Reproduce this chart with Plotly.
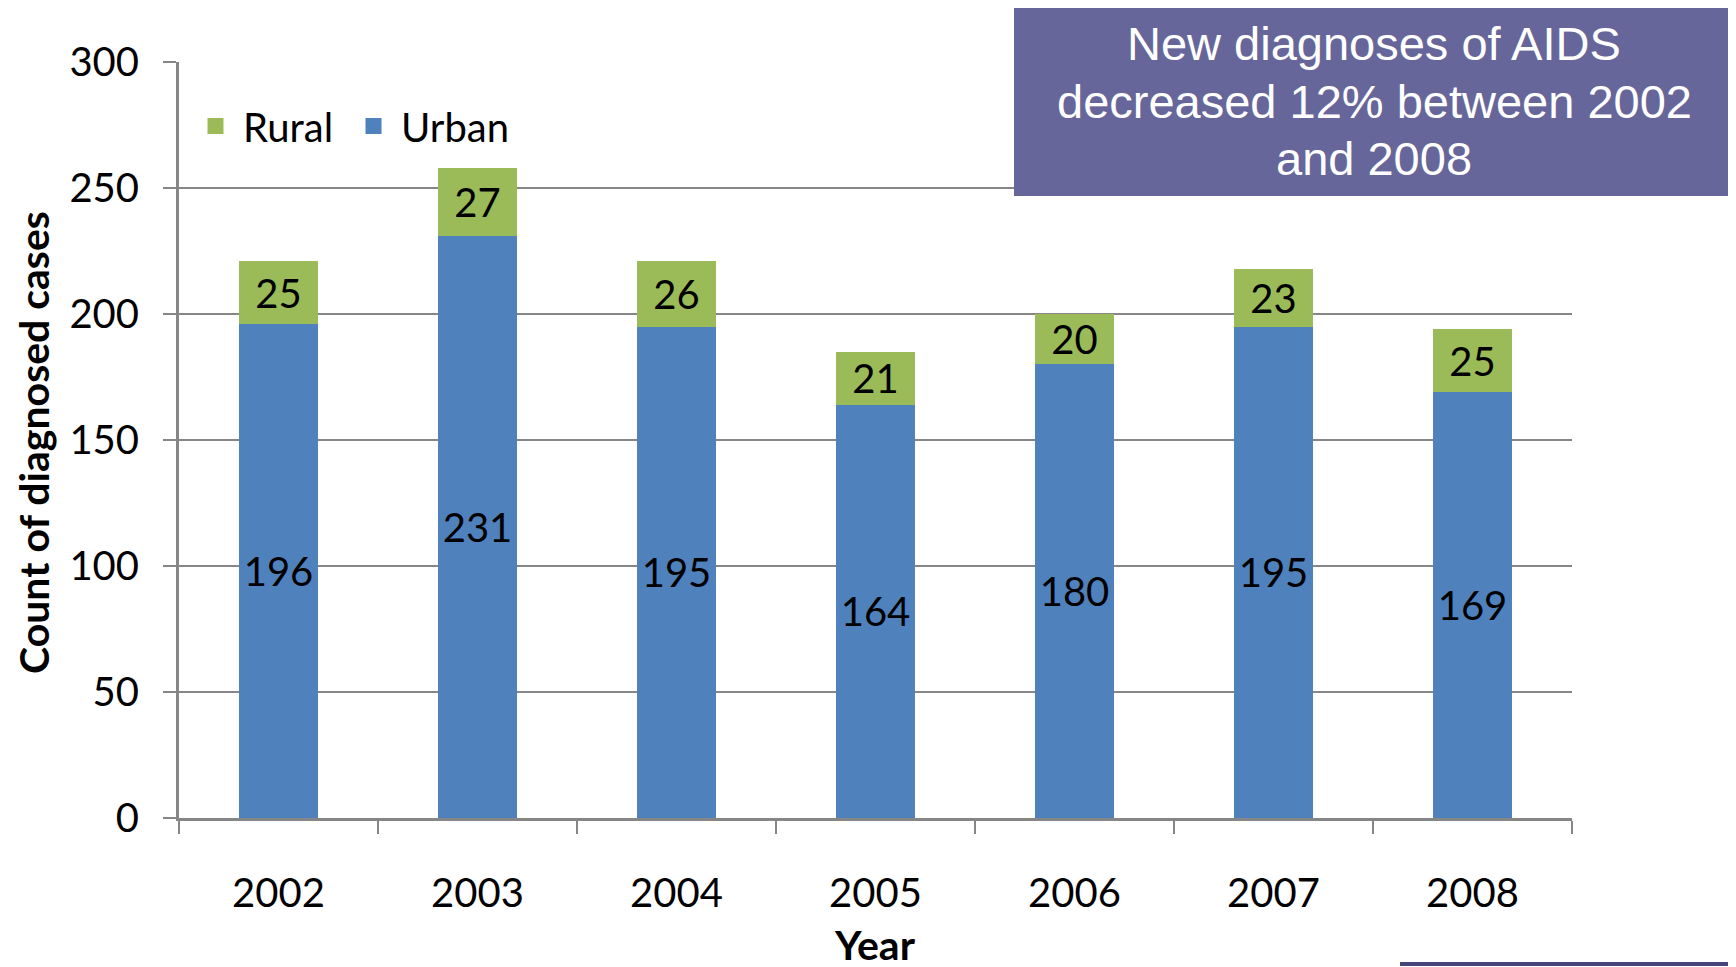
import plotly.graph_objects as go

years = ["2002", "2003", "2004", "2005", "2006", "2007", "2008"]
urban = [196, 231, 195, 164, 180, 195, 169]
rural = [25, 27, 26, 21, 20, 23, 25]
y_ticks = [0, 50, 100, 150, 200, 250, 300]
title_lines = ["New diagnoses of AIDS", "decreased 12% between 2002", "and 2008"]

URBAN_C = "#4F81BD"
RURAL_C = "#9BBB59"
GRID_C = "#868686"
FONT = "Lato"

OFF = 8  # body margin of the page
W, H = 1736, 967
L, R, T, B = 179 - OFF, 164 + OFF, 62 - OFF, 149 + OFF
PW, PH = W - L - R, H - T - B


def px(x):
    return (x - OFF - L) / PW


def py(y):
    return (H - B - (y - OFF)) / PH


fig = go.Figure()
fig.add_trace(go.Bar(
    x=years, y=urban, name="Urban", marker=dict(color=URBAN_C, line=dict(width=0)),
    text=[str(v) for v in urban], textposition="inside", insidetextanchor="middle",
    textangle=0,
    textfont=dict(family=FONT, size=40, color="black"), constraintext="none",
    showlegend=False, hoverinfo="skip",
))
fig.add_trace(go.Bar(
    x=years, y=rural, name="Rural", marker=dict(color=RURAL_C, line=dict(width=0)),
    text=[str(v) for v in rural], textposition="inside", insidetextanchor="middle",
    textangle=0,
    textfont=dict(family=FONT, size=40, color="black"), constraintext="none",
    showlegend=False, hoverinfo="skip",
))
# legend entries
fig.add_trace(go.Scatter(x=[None], y=[None], mode="markers", name="Rural",
                         marker=dict(symbol="square", size=22, color=RURAL_C)))
fig.add_trace(go.Scatter(x=[None], y=[None], mode="markers", name="Urban",
                         marker=dict(symbol="square", size=22, color=URBAN_C)))
# invisible spacer entry so the last legend label is not clipped
fig.add_trace(go.Scatter(x=[None], y=[None], mode="markers", name=" ",
                         marker=dict(symbol="square", size=1, color="rgba(0,0,0,0)"),
                         hoverinfo="skip"))

title_ann = [
    dict(xref="paper", yref="paper", x=px(1374), y=py(yc), text=t,
         showarrow=False, xanchor="center", yanchor="middle",
         font=dict(family="Liberation Sans", size=47, color="white"))
    for t, yc in zip(title_lines, [43, 101, 159])
]

fig.update_layout(
    width=W, height=H,
    margin=dict(l=L, r=R, t=T, b=B, pad=0),
    barmode="stack", bargap=0.6,
    plot_bgcolor="white", paper_bgcolor="white",
    font=dict(family=FONT, size=40, color="black"),
    legend=dict(orientation="h", x=px(188), y=py(126), xanchor="left", yanchor="middle",
                traceorder="normal", entrywidth=98, entrywidthmode="pixels",
                font=dict(family=FONT, size=40, color="black"), bgcolor="rgba(0,0,0,0)",
                itemwidth=45, tracegroupgap=0),
    xaxis=dict(
        type="category", tickson="boundaries", ticks="outside", ticklen=13,
        tickwidth=2, tickcolor=GRID_C, showline=True, linecolor=GRID_C, linewidth=3,
        showgrid=False, ticklabelstandoff=38,
        tickfont=dict(family=FONT, size=40, color="black"),
    ),
    yaxis=dict(
        range=[0, 300], tickvals=y_ticks, ticktext=[str(v) for v in y_ticks],
        ticks="outside", ticklen=13, tickwidth=2, tickcolor=GRID_C,
        showline=True, linecolor=GRID_C, linewidth=3,
        showgrid=True, gridcolor=GRID_C, gridwidth=2, zeroline=False,
        ticklabelstandoff=16,
        tickfont=dict(family=FONT, size=40, color="black"),
    ),
    shapes=[
        dict(type="rect", xref="paper", yref="paper",
             x0=px(1014), x1=px(1734), y0=py(196), y1=py(3),
             fillcolor="#67669A", line=dict(width=0), layer="above"),
        dict(type="line", xref="paper", yref="paper",
             x0=px(1400), x1=px(1740), y0=py(964), y1=py(964),
             line=dict(color="#45457A", width=4), layer="above"),
    ],
    annotations=title_ann + [
        dict(xref="paper", yref="paper", x=px(33), y=py(443),
             text="<b>Count of diagnosed cases</b>", textangle=-90,
             showarrow=False, xanchor="center", yanchor="middle",
             font=dict(family=FONT, size=41, color="black")),
        dict(xref="paper", yref="paper", x=px(875), y=py(944),
             text="<b>Year</b>",
             showarrow=False, xanchor="center", yanchor="middle",
             font=dict(family=FONT, size=41, color="black")),
    ],
)

fig.write_html("out.html")
